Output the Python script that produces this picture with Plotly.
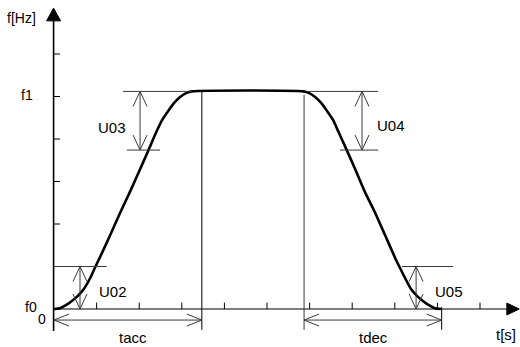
import plotly.graph_objects as go

# ---- data (time in tick units, frequency in tick units) ----
curve_t = [0, 0.14, 0.28, 0.42, 0.56, 0.70, 0.85, 0.96, 1.08, 1.32, 1.55, 1.78, 2.02, 2.21,
           2.39, 2.54, 2.68, 2.82, 2.96, 3.10, 3.24,
           5.85, 5.99, 6.13, 6.27, 6.41, 6.55, 6.69, 6.88, 7.07, 7.30, 7.54, 7.77, 8.00,
           8.12, 8.24, 8.38, 8.52, 8.66, 8.80, 8.94, 9.08]
curve_f = [0, 0.02, 0.09, 0.19, 0.31, 0.47, 0.73, 0.97, 1.22, 1.74, 2.26, 2.75, 3.29, 3.72,
           4.14, 4.45, 4.66, 4.85, 4.99, 5.08, 5.12,
           5.12, 5.08, 4.99, 4.85, 4.66, 4.45, 4.14, 3.72, 3.29, 2.75, 2.26, 1.74, 1.22,
           0.97, 0.73, 0.47, 0.31, 0.19, 0.09, 0.02, 0]
x_ticks = [1, 2, 3, 4, 5, 6, 7, 8, 9, 10]
y_ticks = [1, 2, 3, 4, 5, 6]
t_acc_end = 3.47
t_dec_start = 5.87
t_dec_end = 9.10
f0_level = 0
f1_level = 5.12
u_low = 1.0      # U02 / U05 level
u_high = 3.74    # U03 / U04 lower level

FONT = "Liberation Sans, Arial, sans-serif"
GREY = "#3a3a3a"

fig = go.Figure()
fig.add_trace(go.Scatter(x=curve_t, y=curve_f, mode="lines",
                         line=dict(color="black", width=2.6, shape="spline", smoothing=0.6),
                         hoverinfo="skip", showlegend=False))

shapes = []
def line(x0, y0, x1, y1, color=GREY, width=1):
    shapes.append(dict(type="line", xref="x", yref="y", x0=x0, y0=y0, x1=x1, y1=y1,
                       line=dict(color=color, width=width)))

AX, AY = 0.164, 0.353   # arm of vertical arrow head
HX, HY = 0.352, 0.141   # arm of horizontal arrow head

def v_double_arrow(x, y0, y1):
    line(x, y0, x, y1)
    line(x, y0, x - AX, y0 + AY); line(x, y0, x + AX, y0 + AY)
    line(x, y1, x - AX, y1 - AY); line(x, y1, x + AX, y1 - AY)

def h_double_arrow(y, x0, x1):
    line(x0, y, x1, y)
    line(x0, y, x0 + HX, y + HY); line(x0, y, x0 + HX, y - HY)
    line(x1, y, x1 - HX, y + HY); line(x1, y, x1 - HX, y - HY)

# axes
line(-0.01, -0.52, -0.01, 6.78, "black", 1.6)
line(0, 0, 10.63, 0, "black", 1.2)
shapes.append(dict(type="path", xref="x", yref="y",
                   path="M -0.174 6.78 L -0.01 7.08 L 0.154 6.78 Z",
                   fillcolor="black", line=dict(color="black", width=1)))
shapes.append(dict(type="path", xref="x", yref="y",
                   path="M 10.63 0.14 L 10.92 0 L 10.63 -0.14 Z",
                   fillcolor="black", line=dict(color="black", width=1)))
for xt in x_ticks:
    line(xt, 0, xt, 0.15, "black", 1)
for yt in y_ticks:
    line(0, yt, 0.14, yt, "black", 1)

# vertical markers of accel / decel phases
line(t_acc_end, -0.49, t_acc_end, f1_level, "black", 1)
line(t_dec_start, -0.49, t_dec_start, 5.04, GREY, 1)
line(t_dec_end, -0.49, t_dec_end, 0.05, "black", 1)
h_double_arrow(-0.26, 0, t_acc_end)
h_double_arrow(-0.26, t_dec_start, t_dec_end)

# U02
line(0, u_low, 1.24, u_low)
v_double_arrow(0.61, f0_level, u_low)
# U03
line(1.62, f1_level, 3.24, f1_level)
line(1.71, u_high, 2.49, u_high)
v_double_arrow(2.02, u_high, f1_level)
# U04
line(5.96, f1_level, 7.61, f1_level)
line(6.71, u_high, 7.61, u_high)
v_double_arrow(7.23, u_high, f1_level)
# U05
line(8.17, u_low, 9.37, u_low)
v_double_arrow(8.50, f0_level, u_low)

ann = []
def text(s, x, y, xanchor="center", size=15):
    ann.append(dict(text=s, x=x, y=y, xref="x", yref="y", showarrow=False,
                    xanchor=xanchor, yanchor="middle",
                    font=dict(family=FONT, size=size, color="black")))

text("f[Hz]", -0.775, 6.85, size=14)
text("f1", -0.45, 5.04, "right", 14)
text("f0", -0.36, 0.05, "right", 14)
text("0", -0.28, -0.235, size=14)
text("U02", 1.01, 0.42, "left")
text("U03", 0.99, 4.28, "left")
text("U04", 7.54, 4.31, "left")
text("U05", 8.90, 0.42, "left")
text("tacc", 1.85, -0.68)
text("tdec", 7.49, -0.68)
text("t[s]", 10.61, -0.59)

fig.update_layout(
    width=520, height=347, margin=dict(l=0, r=0, t=0, b=0),
    paper_bgcolor="white", plot_bgcolor="white",
    xaxis=dict(range=[-1.268, 10.939], visible=False, fixedrange=True),
    yaxis=dict(range=[-0.894, 7.271], visible=False, fixedrange=True),
    shapes=shapes, annotations=ann, showlegend=False,
)
fig.write_html("out.html", config={"displayModeBar": False},
               post_script="document.body.style.margin='0';document.body.style.overflow='hidden';")
